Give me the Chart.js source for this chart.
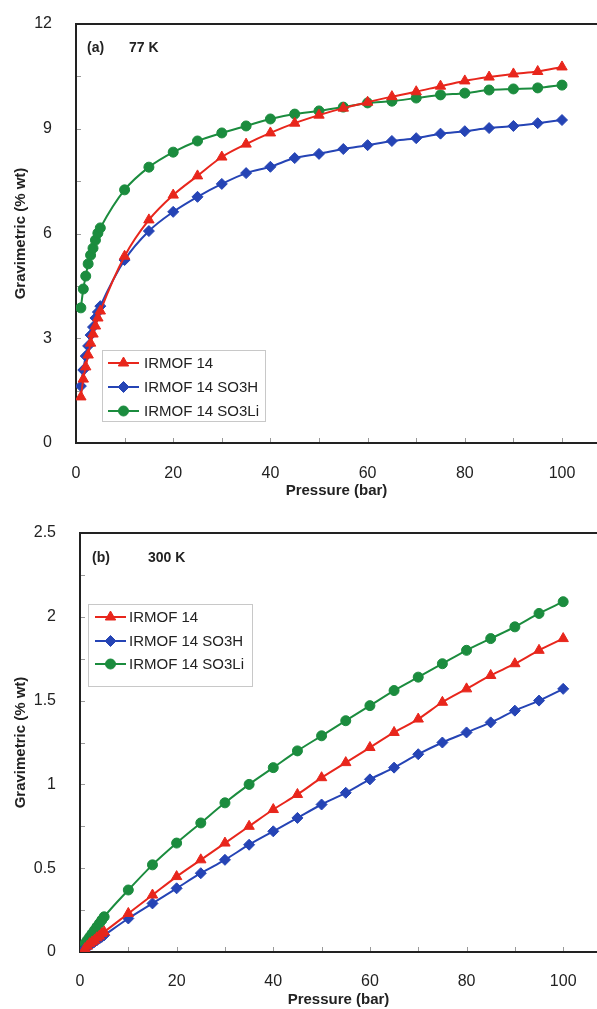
<!DOCTYPE html>
<html>
<head>
<meta charset="utf-8">
<script src="https://cdn.jsdelivr.net/npm/chart.js@4.4.1/dist/chart.umd.min.js"></script>
<style>
  body { margin: 0; background: #fff; width: 597px; height: 1009px; overflow: hidden; }
  canvas { display: block; }
</style>
</head>
<body>
<canvas id="c77" width="597" height="505"></canvas>
<canvas id="c300" width="597" height="504"></canvas>
<script>
// pressure points (bar), shared by every series
const pressure = [1, 1.5, 2, 2.5, 3, 3.5, 4, 4.5, 5, 10, 15, 20, 25, 30, 35, 40, 45, 50,
  55, 60, 65, 70, 75, 80, 85, 90, 95, 100];

// (a) 77 K, gravimetric uptake (% wt)
const irmof77 = [1.32, 1.83, 2.18, 2.52, 2.86, 3.12, 3.35, 3.58, 3.78, 5.35, 6.39, 7.10, 7.65,
  8.19, 8.56, 8.88, 9.16, 9.39, 9.59, 9.76, 9.92, 10.06, 10.22, 10.37, 10.48, 10.57, 10.64, 10.77];
const so3h77 = [1.63, 2.09, 2.49, 2.78, 3.09, 3.32, 3.58, 3.75, 3.92, 5.24, 6.07, 6.62, 7.05,
  7.42, 7.73, 7.91, 8.16, 8.28, 8.42, 8.53, 8.65, 8.73, 8.86, 8.93, 9.02, 9.08, 9.16, 9.25];
const so3li77 = [3.87, 4.41, 4.78, 5.13, 5.38, 5.58, 5.81, 6.01, 6.16, 7.25, 7.90, 8.33, 8.65,
  8.88, 9.08, 9.28, 9.42, 9.51, 9.62, 9.74, 9.79, 9.88, 9.97, 10.02, 10.11, 10.14, 10.17, 10.25];

// (b) 300 K
const irmof300 = [0.02, 0.035, 0.05, 0.06, 0.07, 0.085, 0.095, 0.11, 0.12, 0.23, 0.34, 0.45, 0.55,
  0.65, 0.75, 0.85, 0.94, 1.04, 1.13, 1.22, 1.31, 1.39, 1.49, 1.57, 1.65, 1.72, 1.80, 1.87];
const so3h300 = [0.02, 0.03, 0.04, 0.05, 0.06, 0.07, 0.08, 0.09, 0.10, 0.20, 0.29, 0.38, 0.47,
  0.55, 0.64, 0.72, 0.80, 0.88, 0.95, 1.03, 1.10, 1.18, 1.25, 1.31, 1.37, 1.44, 1.50, 1.57];
const so3li300 = [0.05, 0.07, 0.09, 0.11, 0.13, 0.15, 0.17, 0.19, 0.21, 0.37, 0.52, 0.65, 0.77,
  0.89, 1.00, 1.10, 1.20, 1.29, 1.38, 1.47, 1.56, 1.64, 1.72, 1.80, 1.87, 1.94, 2.02, 2.09];

const seriesNames = ["IRMOF 14", "IRMOF 14 SO3H", "IRMOF 14 SO3Li"];
const xTicks = [0, 20, 40, 60, 80, 100];
const yTicks77 = [0, 3, 6, 9, 12];
const yTicks300 = [0, 0.5, 1, 1.5, 2, 2.5];

const INK = "#222";
const FONT = "'Liberation Sans', Arial, sans-serif";
const styles = [
  { color: "#e8261c", point: "triangle", radius: 6 },
  { color: "#2544b5", point: "rectRot", radius: 5.5 },
  { color: "#1b8c3e", point: "circle", radius: 5 }
];

function makeDataset(i, values) {
  const s = styles[i];
  return {
    label: seriesNames[i],
    data: pressure.map((p, k) => ({ x: p, y: values[k] })),
    borderColor: s.color,
    backgroundColor: s.color,
    borderWidth: 2,
    pointStyle: s.point,
    pointRadius: s.radius,
    pointBorderWidth: 1,
    cubicInterpolationMode: "monotone"
  };
}

// small inward tick marks, top frame line, panel label and legend box
const frame = {
  id: "frame",
  beforeDatasetsDraw(chart, args, opts) {
    const { ctx, chartArea: a, scales } = chart;
    ctx.save();
    ctx.strokeStyle = "#9a9a9a";
    ctx.lineWidth = 1;
    for (let v = opts.xStep; v < scales.x.max; v += opts.xStep) {
      const px = Math.round(scales.x.getPixelForValue(v)) + 0.5;
      ctx.beginPath();
      ctx.moveTo(px, a.bottom - 1);
      ctx.lineTo(px, a.bottom - 5);
      ctx.stroke();
    }
    for (let v = opts.yStep; v < scales.y.max - 1e-9; v += opts.yStep) {
      const py = Math.round(scales.y.getPixelForValue(v)) + 0.5;
      ctx.beginPath();
      ctx.moveTo(a.left + 1, py);
      ctx.lineTo(a.left + 5, py);
      ctx.stroke();
    }
    ctx.strokeStyle = INK;
    ctx.lineWidth = 2;
    ctx.beginPath();
    ctx.moveTo(a.left - 1, a.top);
    ctx.lineTo(chart.width, a.top);
    ctx.stroke();
    ctx.restore();
  },
  afterDraw(chart, args, opts) {
    const { ctx } = chart;
    ctx.save();
    ctx.fillStyle = INK;
    ctx.font = "bold 14px " + FONT;
    ctx.textBaseline = "middle";
    opts.panel.forEach(t => ctx.fillText(t.text, t.x, t.y));

    const L = opts.legend;
    ctx.fillStyle = "#fff";
    ctx.fillRect(L.x, L.y, L.w, L.h);
    ctx.strokeStyle = "#c8c8c8";
    ctx.lineWidth = 1;
    ctx.strokeRect(L.x + 0.5, L.y + 0.5, L.w, L.h);
    ctx.font = "15px " + FONT;
    chart.data.datasets.forEach((ds, i) => {
      const y = L.rows[i];
      ctx.strokeStyle = ds.borderColor;
      ctx.fillStyle = ds.backgroundColor;
      ctx.lineWidth = 2;
      ctx.beginPath();
      ctx.moveTo(L.lineX, y);
      ctx.lineTo(L.lineX + 31, y);
      ctx.stroke();
      ctx.lineWidth = 1;
      Chart.helpers.drawPoint(ctx, { pointStyle: ds.pointStyle, radius: ds.pointRadius, rotation: 0, borderWidth: 1 }, L.lineX + 15.5, y);
      ctx.fillStyle = INK;
      ctx.fillText(ds.label, L.textX, y + 1);
    });
    ctx.restore();
  }
};

function makeChart(id, sets, cfg) {
  return new Chart(document.getElementById(id), {
    type: "line",
    data: { datasets: sets },
    plugins: [frame],
    options: {
      responsive: false,
      animation: false,
      layout: { autoPadding: false, padding: { top: cfg.top, right: 0, left: 0, bottom: 0 } },
      plugins: {
        legend: { display: false },
        tooltip: { enabled: false },
        frame: cfg.frame
      },
      scales: {
        x: {
          type: "linear",
          min: 0,
          max: cfg.xMax,
          afterFit(s) { s.height = cfg.xHeight; s.paddingLeft = 0; s.paddingRight = 0; },
          afterBuildTicks(s) { s.ticks = xTicks.map(v => ({ value: v })); },
          grid: { display: false },
          border: { display: true, color: INK, width: 2 },
          ticks: { color: INK, padding: cfg.xPad, font: { size: 16, family: FONT } },
          title: {
            display: true, text: "Pressure (bar)", color: INK,
            padding: { top: 0, bottom: cfg.xTitlePad },
            font: { size: 15, weight: "bold", family: FONT }
          }
        },
        y: {
          min: 0,
          max: cfg.yMax,
          afterFit(s) { s.width = cfg.yWidth; s.paddingTop = 0; s.paddingBottom = 0; },
          afterBuildTicks(s) { s.ticks = cfg.yTicks.map(v => ({ value: v })); },
          grid: { display: false },
          border: { display: true, color: INK, width: 2 },
          ticks: { color: INK, padding: 16, font: { size: 16, family: FONT }, callback: v => String(v) },
          title: {
            display: true, text: "Gravimetric (% wt)", color: INK,
            padding: { top: 12, bottom: 0 },
            font: { size: 15, weight: "bold", family: FONT }
          }
        }
      }
    }
  });
}

makeChart("c77", [makeDataset(0, irmof77), makeDataset(1, so3h77), makeDataset(2, so3li77)], {
  top: 24, xMax: 107.2, xHeight: 62, yWidth: 76, yMax: 12, yTicks: yTicks77, xPad: 13, xTitlePad: 5,
  frame: {
    xStep: 10, yStep: 1.5,
    panel: [{ text: "(a)", x: 87, y: 48 }, { text: "77 K", x: 129, y: 48 }],
    legend: { x: 102, y: 350, w: 163, h: 71, rows: [363, 387, 411], lineX: 108, textX: 144 }
  }
});

makeChart("c300", [makeDataset(0, irmof300), makeDataset(1, so3h300), makeDataset(2, so3li300)], {
  top: 28, xMax: 107, xHeight: 57, yWidth: 80, yMax: 2.5, yTicks: yTicks300, xPad: 12, xTitlePad: 0,
  frame: {
    xStep: 10, yStep: 0.25,
    panel: [{ text: "(b)", x: 92, y: 53 }, { text: "300 K", x: 148, y: 53 }],
    legend: { x: 88, y: 99, w: 164, h: 82, rows: [112, 136, 159], lineX: 95, textX: 129 }
  }
});
</script>
</body>
</html>
